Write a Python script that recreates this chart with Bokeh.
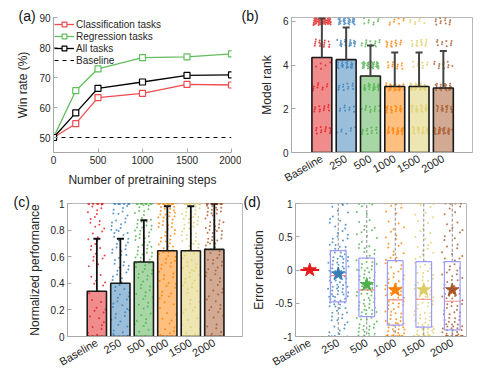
import numpy as np
from bokeh.plotting import figure
from bokeh.layouts import column, row
from bokeh.models import (Title, Legend, LegendItem, FixedTicker, Range1d,
                          NumeralTickFormatter)
from bokeh.embed import file_html
from bokeh.resources import INLINE

FONT = "Liberation Sans"

# ---------------- data ----------------
steps = [0, 250, 500, 1000, 1500, 2000]
win_cls = [50, 54.6, 63.3, 64.7, 67.7, 67.5]
win_reg = [50, 65.6, 72.9, 76.6, 76.9, 77.9]
win_all = [50, 58.2, 66.4, 68.5, 70.7, 70.9]
win_base = 50

groups = ["Baseline", "250", "500", "1000", "1500", "2000"]
colors = ["#e41a1c", "#377eb8", "#4daf4a", "#ff7f00", "#ddcd65", "#a65628"]

# (b) model rank
rank_mean = [4.35, 4.25, 3.5, 3.02, 3.02, 2.95]
rank_err_top = [6.15, 5.72, 4.9, 4.58, 4.58, 4.65]
# counts of datasets at rank 1..6
rank_counts = [
    [13, 12, 10, 5, 15, 45],
    [7, 9, 12, 22, 22, 28],
    [12, 12, 22, 31, 15, 8],
    [22, 18, 25, 12, 15, 8],
    [20, 20, 27, 10, 15, 8],
    [26, 18, 22, 12, 10, 12],
]

# (c) normalized performance
perf_mean = [0.34, 0.40, 0.56, 0.645, 0.645, 0.655]
perf_err_top = [0.735, 0.735, 0.875, 0.98, 0.98, 1.0]
# counts per 0.1 bin from 0 to 1
perf_hist = [
    [5, 5, 4, 4, 4, 5, 6, 5, 7, 6],
    [6, 7, 7, 7, 7, 8, 9, 9, 9, 8],
    [4, 5, 6, 7, 8, 9, 11, 11, 11, 9],
    [6, 4, 5, 6, 7, 8, 9, 10, 12, 14],
    [6, 4, 5, 6, 7, 8, 9, 10, 12, 13],
    [5, 4, 5, 6, 7, 8, 9, 11, 13, 15],
]
perf_at_one = [18, 18, 22, 22, 22, 26]
perf_at_zero = [8, 6, 3, 8, 5, 3]

# (d) error reduction
err_q1 = [0.0, -0.48, -0.70, -0.83, -0.86, -0.90]
err_med = [0.0, -0.085, -0.30, -0.45, -0.44, -0.47]
err_q3 = [0.0, 0.29, 0.18, 0.14, 0.125, 0.125]
err_mean = [0.0, -0.06, -0.22, -0.30, -0.30, -0.30]
# counts per 0.2 bin from -1 to 1
err_hist = [
    [0, 0, 0, 0, 0, 0, 0, 0, 0, 0],
    [8, 9, 14, 17, 19, 17, 12, 8, 6, 5],
    [14, 12, 14, 14, 12, 11, 8, 6, 5, 4],
    [17, 11, 12, 11, 9, 8, 6, 5, 4, 4],
    [19, 11, 11, 11, 9, 8, 6, 5, 4, 4],
    [20, 12, 11, 11, 9, 8, 6, 5, 4, 4],
]
err_at_min = [0, 3, 7, 20, 20, 24]
err_at_max = [0, 3, 3, 3, 3, 5]

xpos = list(range(1, len(groups) + 1))
tick_map = {i + 1: g for i, g in enumerate(groups)}

A1, A2 = 0.7548776662, 0.5698402910


def spread(n, s1, s2):
    k = np.arange(1, n + 1)
    return ((s1 + k * A1) % 1.0) - 0.5, ((s2 + k * A2) % 1.0)


def style(p, box=True):
    for ax in list(p.xaxis) + list(p.yaxis):
        ax.axis_line_color = "#a8a8a8"
        ax.major_tick_line_color = "#a8a8a8"
        ax.major_tick_in = 4
        ax.major_tick_out = 0
        ax.minor_tick_line_color = None
        ax.major_label_text_font = FONT
        ax.major_label_text_font_size = "10px"
        ax.major_label_text_color = "#262626"
        ax.axis_label_text_font = FONT
        ax.axis_label_text_font_size = "12px"
        ax.axis_label_text_font_style = "normal"
        ax.axis_label_text_color = "#262626"
        ax.axis_label_standoff = 6
        ax.major_label_standoff = 3
    p.xgrid.visible = False
    p.ygrid.visible = False
    p.outline_line_color = "#b8b8b8" if box else None
    p.background_fill_color = "white"
    p.border_fill_color = "white"


def cat_axis(p):
    p.xaxis.ticker = FixedTicker(ticks=xpos)
    p.xaxis.major_label_overrides = tick_map
    p.xaxis.major_label_orientation = np.pi / 6
    p.xaxis.major_label_text_font_size = "11px"
    p.xaxis.major_label_standoff = 5
    p.xaxis.major_tick_in = 0


def letter(p, txt, off):
    p.add_layout(Title(text=txt, align="left", offset=off, standoff=-12,
                       text_font=FONT, text_font_size="14px", text_color="#111111",
                       text_font_style="normal"), "above")


# ---------------- (a) ----------------
pa = figure(width=241, height=195, x_range=Range1d(0, 2000), y_range=Range1d(45, 90),
            output_backend="svg", toolbar_location=None,
            min_border_left=53, min_border_right=10, min_border_top=15, min_border_bottom=42)
style(pa, box=False)
pa.xaxis.ticker = FixedTicker(ticks=[0, 500, 1000, 1500, 2000])
pa.yaxis.ticker = FixedTicker(ticks=[50, 60, 70, 80, 90])
pa.xaxis.axis_label = "Number of pretraining steps"
pa.yaxis.axis_label = "Win rate (%)"

rb = pa.line([0, 2000], [win_base, win_base], color="black", line_dash="4 4", line_width=1.2)
items = []
for name, ys, c in [("Classification tasks", win_cls, "#ef4b4f"),
                    ("Regression tasks", win_reg, "#62bd5e"),
                    ("All tasks", win_all, "#000000")]:
    l = pa.line(steps, ys, color=c, line_width=1.3)
    s = pa.scatter(steps, ys, marker="square", size=6, fill_color="white", line_color=c, line_width=1.2)
    items.append(LegendItem(label=name, renderers=[l, s]))
items.append(LegendItem(label="Baseline", renderers=[rb]))
leg = Legend(items=items, location="top_left", border_line_alpha=0, background_fill_alpha=0,
             margin=0, padding=1, spacing=0, label_height=12, glyph_height=12, glyph_width=20,
             label_text_font=FONT, label_text_font_size="10px", label_standoff=2,
             label_text_color="#262626")
pa.add_layout(leg)
letter(pa, "(a)", -35)

# ---------------- (b) ----------------
pb = figure(width=249, height=195, x_range=Range1d(-0.25, 7.2), y_range=Range1d(0, 6.18),
            output_backend="svg", toolbar_location=None,
            min_border_left=50, min_border_right=18, min_border_top=17, min_border_bottom=43)
style(pb)
cat_axis(pb)
pb.yaxis.ticker = FixedTicker(ticks=[0, 2, 4, 6])
pb.yaxis.axis_label = "Model rank"
for i, c in enumerate(colors):
    xs, ys = [], []
    for r, n in enumerate(rank_counts[i], start=1):
        jx, jy = spread(n, 0.31 * i + 0.17 * r, 0.53 * i + 0.29 * r)
        xs += list(i + 1 + jx * 0.76)
        ys += list(r + (jy - 0.5) * 0.34)
    pb.scatter(xs, ys, size=2.0, color=c, alpha=0.8, line_width=0)
pb.vbar(x=xpos, top=rank_mean, width=0.82, fill_color=colors, fill_alpha=0.5,
        line_color="#1a1a1a", line_width=1.6)
pb.segment(x0=xpos, y0=rank_mean, x1=xpos, y1=rank_err_top, color="#444444", line_width=2)
pb.scatter(x=xpos, y=rank_err_top, marker="dash", size=7, line_color="#444444", line_width=2)
letter(pb, "(b)", -50)

# ---------------- (c) ----------------
pc = figure(width=243, height=192, x_range=Range1d(-0.25, 7.2), y_range=Range1d(0, 1),
            output_backend="svg", toolbar_location=None,
            min_border_left=67, min_border_right=1, min_border_top=8, min_border_bottom=49)
style(pc)
cat_axis(pc)
pc.yaxis.ticker = FixedTicker(ticks=[0, 0.2, 0.4, 0.6, 0.8, 1.0])
pc.yaxis.formatter = NumeralTickFormatter(format="0.[0]")
pc.yaxis.axis_label = "Normalized performance"
for i, c in enumerate(colors):
    xs, ys = [], []
    for b, n in enumerate(perf_hist[i]):
        jx, jy = spread(n, 0.37 * i + 0.11 * b, 0.61 * i + 0.23 * b)
        xs += list(i + 1 + jx * 0.78)
        ys += list(0.1 * b + jy * 0.1)
    for val, n in [(1.0, perf_at_one[i]), (0.0, perf_at_zero[i])]:
        jx, jy = spread(n, 0.41 * i + val, 0.2)
        xs += list(i + 1 + jx * 0.78)
        ys += list(val + (jy - 0.5) * 0.006)
    pc.scatter(xs, ys, size=2.0, color=c, alpha=0.8, line_width=0)
pc.vbar(x=xpos, top=perf_mean, width=0.82, fill_color=colors, fill_alpha=0.5,
        line_color="#1a1a1a", line_width=1.6)
pc.segment(x0=xpos, y0=perf_mean, x1=xpos, y1=perf_err_top, color="#111111", line_width=1.8)
pc.scatter(x=xpos, y=perf_err_top, marker="dash", size=7, line_color="#111111", line_width=2)
letter(pc, "(c)", -54)

# ---------------- (d) ----------------
pd_ = figure(width=247, height=192, x_range=Range1d(0.5, 6.5), y_range=Range1d(-1, 1),
             output_backend="svg", toolbar_location=None,
             min_border_left=52, min_border_right=24, min_border_top=7, min_border_bottom=51)
style(pd_)
cat_axis(pd_)
pd_.yaxis.ticker = FixedTicker(ticks=[-1, -0.5, 0, 0.5, 1])
pd_.yaxis.formatter = NumeralTickFormatter(format="0.[0]")
pd_.yaxis.axis_label = "Error reduction"
for i, c in enumerate(colors):
    xs, ys = [], []
    for b, n in enumerate(err_hist[i]):
        jx, jy = spread(n, 0.29 * i + 0.13 * b, 0.47 * i + 0.19 * b)
        xs += list(i + 1 + jx * 0.72)
        ys += list(-1 + 0.2 * b + jy * 0.2)
    for val, n in [(-1.0, err_at_min[i]), (1.0, err_at_max[i])]:
        jx, jy = spread(n, 0.43 * i + val, 0.3)
        xs += list(i + 1 + jx * 0.72)
        ys += list(val + (jy - 0.5) * 0.012)
    if xs:
        pd_.scatter(xs, ys, size=2.0, color=c, alpha=0.8, line_width=0)
bx = xpos[1:]
pd_.segment(x0=bx, y0=err_q3[1:], x1=bx, y1=[1] * len(bx), color="#8a8a8a", line_dash="3 2", line_width=1)
pd_.segment(x0=bx, y0=err_q1[1:], x1=bx, y1=[-1] * len(bx), color="#8a8a8a", line_dash="3 2", line_width=1)
pd_.vbar(x=bx, bottom=err_q1[1:], top=err_q3[1:], width=0.55, fill_alpha=0,
         line_color="#9c9cff", line_width=1.2)
pd_.segment(x0=[x - 0.275 for x in bx], y0=err_med[1:], x1=[x + 0.275 for x in bx], y1=err_med[1:],
            color="#f08a8a", line_width=1.2)
pd_.segment(x0=[0.67], y0=[err_med[0]], x1=[1.33], y1=[err_med[0]], color="#e41a1c", line_width=2.2)
pd_.scatter(x=xpos, y=err_mean, marker="star", size=14, fill_color=colors, line_color=colors, line_width=1)
letter(pd_, "(d)", -52)

layout = column(row(pa, pb), row(pc, pd_))
open("out.html", "w").write(file_html(layout, INLINE))
